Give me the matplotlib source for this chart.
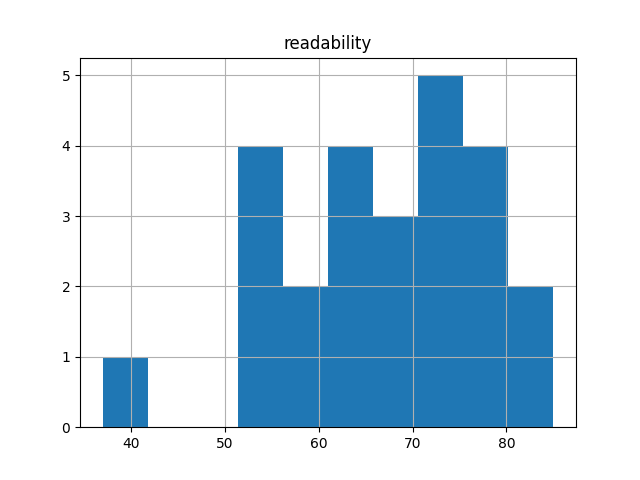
import matplotlib
matplotlib.use("Agg")
import matplotlib.pyplot as plt

readability = [37,
               52, 53, 54, 55,
               58, 60,
               62, 63, 64, 65,
               67, 68, 69,
               71, 72, 73, 74, 75,
               76, 77, 78, 79,
               82, 85]

fig, ax = plt.subplots(figsize=(6.4, 4.8), dpi=100)
ax.hist(readability, bins=10, color="C0")
ax.grid(True)
ax.set_title("readability")
fig.savefig("out.png")
